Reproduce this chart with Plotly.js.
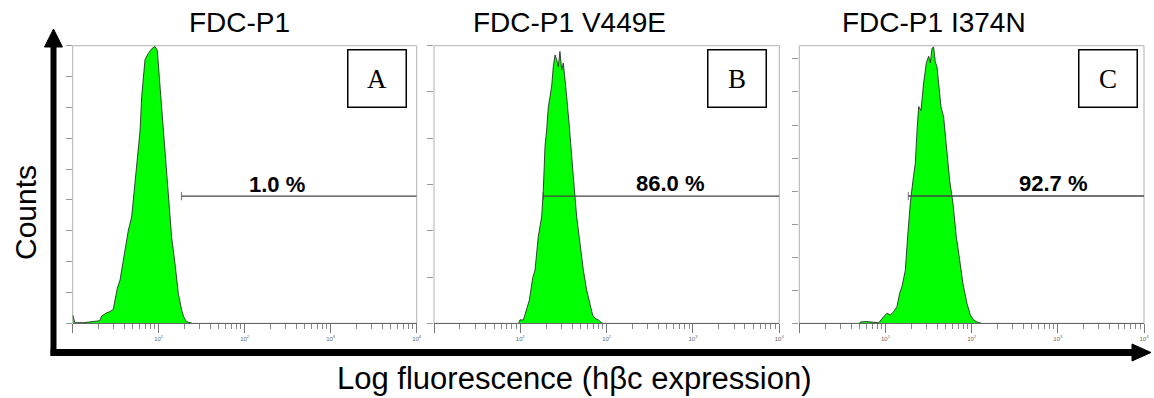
<!DOCTYPE html>
<html><head><meta charset="utf-8">
<script src="https://cdn.plot.ly/plotly-3.0.1.min.js"></script>
<style>html,body{margin:0;padding:0;background:#fff}#chart{width:1154px;height:398px}</style>
</head><body><div id="chart"></div>
<script>
// ---------- data ----------
const panelTitles = ['FDC-P1', 'FDC-P1 V449E', 'FDC-P1 I374N'];
const panelLetters = ['A', 'B', 'C'];
const gateLabels = ['1.0 %', '86.0 %', '92.7 %'];

const fluorA = [1.00,1.06,1.33,1.66,2.07,2.17,2.48,2.72,2.96,3.30,3.55,3.88,4.17,4.44,4.85,5.55,6.07,6.34,6.62,6.93,7.57,8.28,9.06,9.64,10.16,10.81,11.51,12.13,12.94,14.13,15.45,16.90,18.49,19.50,20.94,22.91,24.5];
const countsA = [5.4,0.4,0.4,0.9,1.7,4.7,6.8,7.6,9,22.7,28,41,52,60.5,69,104,125,147,162,171,175,178,179.5,177,160,140,119,106,86,56,39,19.4,8.6,4.3,1.1,0.4,0];

const fluorB = [9.6,9.91,10.84,11.83,12.71,13.90,14.79,16.14,17.66,18.45,19.32,20.18,21.09,22.08,23.07,24.10,25.23,26.36,27.54,28.77,30.13,31.48,32.89,34.43,36.98,39.36,41.11,44.98,49.09,53.70,58.61,64.12,68.87,73.28,79.98,87.50,90];
const countsB = [0,3,2.9,11.5,20,39,46,75,92,115,153,167,187,196,205,222,232,228,222,235,219,225,213,196,170,141,127,92,69,46,29,17,7,4.3,2.9,0.5,0];

const fluorC = [5.0,5.11,6.10,7.29,8.34,9.53,10.40,11.38,12.45,13.58,14.59,15.52,16.98,18.07,19.41,20.84,22.18,23.23,24.27,25.82,27.73,29.79,31.70,33.11,34.67,36.22,37.84,39.63,41.40,44.06,47.32,51.76,55.59,60.67,66.37,72.61,79.25,88.31,96.61,105.4,115.3,126.2,130];
const countsC = [0,1,1.3,1,0.4,5,7.6,6.3,8.8,12.6,22.7,27.7,40,65.5,91,108,121,146,164,161,182,197,202,197,208,209,198,194,182,164,156,126,108,91,65.5,48,30,15,6.3,2.5,1,0.2,0];

const gateStart = [18.4, 18.4, 18.4];
const gateEnd = [10000, 10000, 10000];
const gateLevel = [82.5, 110, 96.3];
const labelFluor = [236, 543, 885];
const labelCount = [90.3, 120.5, 105.4];
const countMax = [180, 240, 210];
const countStep = [20, 40, 25];

const xTickVals = [1, 10, 100, 1000, 10000];
const xTickText = ['', '10<sup>1</sup>', '10<sup>2</sup>', '10<sup>3</sup>', '10<sup>4</sup>'];
const xTitle = 'Log fluorescence (hβc expression)';
const yTitle = 'Counts';

// ---------- layout helpers ----------
const W = 1154, H = 398;
const px = x => x / W;
const py = y => 1 - y / H;
const FONT = 'Liberation Sans, Arial, Helvetica, sans-serif';

const xDom = [[72.7, 416.7], [434, 779.3], [799.3, 1144]];
const yDom = [py(323.3), py(45.7)];
const titleX = [239, 569, 934];
const boxX = [377, 736.7, 1108];

const fluor = [fluorA, fluorB, fluorC];
const counts = [countsA, countsB, countsC];

const data = [];
const layout = {
  width: W, height: H,
  margin: {l: 0, r: 0, t: 0, b: 0},
  paper_bgcolor: '#fff', plot_bgcolor: '#fff',
  showlegend: false,
  font: {family: FONT, color: '#000'},
  annotations: [], shapes: []
};

for (let i = 0; i < 3; i++) {
  const s = i === 0 ? '' : String(i + 1);
  const xa = 'x' + s, ya = 'y' + s;
  data.push({
    type: 'scatter', mode: 'lines', x: fluor[i], y: counts[i],
    xaxis: xa, yaxis: ya, fill: 'tozeroy', fillcolor: '#00ff00',
    line: {color: '#1a1a1a', width: 0.8}, hoverinfo: 'skip'
  });
  data.push({
    type: 'scatter', mode: 'lines+markers',
    x: [gateStart[i], gateEnd[i]], y: [gateLevel[i], gateLevel[i]],
    xaxis: xa, yaxis: ya,
    line: {color: '#444', width: 1.3},
    marker: {symbol: 'line-ns', size: [6, 0], line: {color: '#444', width: 1}},
    hoverinfo: 'skip'
  });
  layout['xaxis' + s] = {
    type: 'log', range: [0, 4], domain: [px(xDom[i][0]), px(xDom[i][1])],
    anchor: ya, tickmode: 'array', tickvals: xTickVals, ticktext: xTickText,
    ticks: 'outside', ticklen: 9, tickcolor: '#777', tickwidth: 1,
    tickfont: {size: 6, color: '#666', family: FONT},
    showline: true, linecolor: '#666', linewidth: 1, mirror: false,
    showgrid: false, zeroline: false, fixedrange: true,
    minor: {ticks: 'outside', ticklen: 5, tickcolor: '#888', dtick: 'D1', showgrid: false}
  };
  layout['yaxis' + s] = {
    range: [0, countMax[i]], domain: yDom, anchor: xa,
    tickmode: 'linear', tick0: 0, dtick: countStep[i],
    ticks: 'outside', ticklen: 6, tickcolor: '#999',
    showticklabels: false, showline: false, showgrid: false, zeroline: false, fixedrange: true
  };
  // frame
  layout.shapes.push({type: 'rect', xref: 'paper', yref: 'paper',
    x0: px(xDom[i][0]), x1: px(xDom[i][1]), y0: yDom[0], y1: yDom[1],
    line: {color: '#b0b0b0', width: 1}, layer: 'below'});
  // panel title
  layout.annotations.push({xref: 'paper', yref: 'paper', x: px(titleX[i]), y: py(23),
    text: panelTitles[i], showarrow: false, xanchor: 'center', yanchor: 'middle',
    font: {size: 28, family: FONT, color: '#000'}});
  // gate label
  layout.annotations.push({xref: xa, yref: ya, x: Math.log10(labelFluor[i]), y: labelCount[i],
    text: '<b>' + gateLabels[i] + '</b>', showarrow: false, xanchor: 'center', yanchor: 'middle',
    font: {size: 22, family: FONT, color: '#000'}});
  // letter box
  layout.annotations.push({xref: 'paper', yref: 'paper', x: px(boxX[i]), y: py(78.5),
    text: panelLetters[i], showarrow: false, xanchor: 'center', yanchor: 'middle',
    width: 57, height: 56, borderpad: 0, bordercolor: '#000', borderwidth: 1.5,
    bgcolor: '#fff', valign: 'middle', align: 'center',
    font: {size: 27, family: 'Liberation Serif, Times New Roman, serif', color: '#000'}});
}

// axis titles
layout.annotations.push({xref: 'paper', yref: 'paper', x: px(25), y: py(213),
  text: yTitle, textangle: -90, showarrow: false, xanchor: 'center', yanchor: 'middle',
  font: {size: 30, family: FONT, color: '#000'}});
layout.annotations.push({xref: 'paper', yref: 'paper', x: px(574), y: py(378),
  text: xTitle, showarrow: false, xanchor: 'center', yanchor: 'middle',
  font: {size: 31, family: FONT, color: '#000'}});

// big arrows
const P = (x, y) => px(x).toFixed(5) + ',' + py(y).toFixed(5);
layout.shapes.push({type: 'line', xref: 'paper', yref: 'paper',
  x0: px(53.5), x1: px(53.5), y0: py(355.5), y1: py(44), line: {color: '#000', width: 6}, layer: 'above'});
layout.shapes.push({type: 'line', xref: 'paper', yref: 'paper',
  x0: px(50.5), x1: px(1134), y0: py(352.5), y1: py(352.5), line: {color: '#000', width: 7}, layer: 'above'});
layout.shapes.push({type: 'path', xref: 'paper', yref: 'paper',
  path: 'M' + P(44.5, 47) + ' L' + P(62.5, 47) + ' L' + P(53.5, 29) + ' Z',
  fillcolor: '#000', line: {color: '#000', width: 1}, layer: 'above'});
layout.shapes.push({type: 'path', xref: 'paper', yref: 'paper',
  path: 'M' + P(1132, 344) + ' L' + P(1132, 361) + ' L' + P(1151, 352.5) + ' Z',
  fillcolor: '#000', line: {color: '#000', width: 1}, layer: 'above'});

Plotly.newPlot('chart', data, layout, {staticPlot: true, displayModeBar: false});
</script>
</body></html>
